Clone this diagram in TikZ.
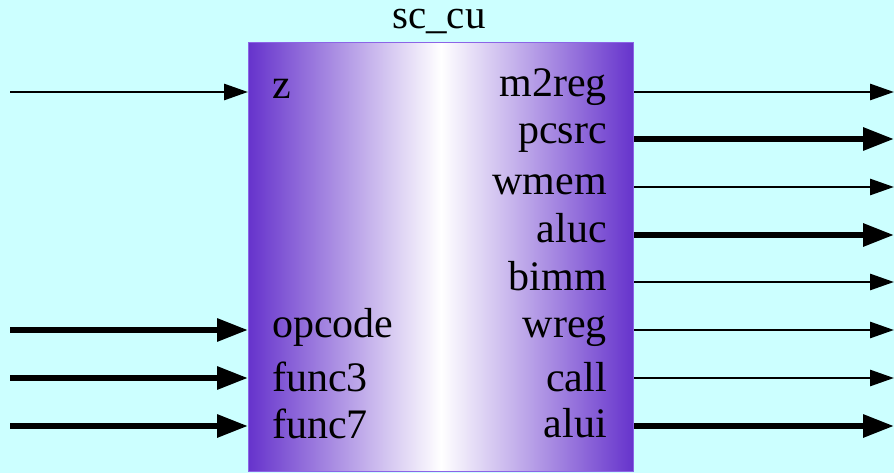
\documentclass[tikz,border=0pt]{standalone}
\usepackage{fontspec}
\setmainfont{Liberation Serif}
\newfontfamily\portfont{Liberation Serif}
\usetikzlibrary{arrows.meta}
\definecolor{bg}{RGB}{204,255,255}
\definecolor{cupurple}{RGB}{102,51,204}
\definecolor{cuedge}{RGB}{140,100,230}

\begin{document}
\begin{tikzpicture}[x=1pt,y=-1pt,
  lbl/.style={font=\portfont\fontsize{42}{50}\selectfont, inner sep=0pt},
  thinwire/.style={line width=2.8pt, -{Triangle[length=24pt,width=16pt]}},
  buswire/.style={line width=6pt, -{Triangle[length=31pt,width=22pt]}}]
  % canvas
  \fill[bg] (0,0) rectangle (894,473);
  \useasboundingbox (0,0) rectangle (894,473);

  % control unit block
  \node[draw=cuedge, line width=1pt, left color=cupurple, right color=cupurple,
        middle color=white, minimum width=385pt, minimum height=429pt,
        anchor=north west, inner sep=0pt] (cu) at (248,42) {};
  \node[lbl, font=\portfont\fontsize{41}{49}\selectfont, anchor=center]
        (title) at (439,21) {sc\_cu};

  % input ports
  \node[lbl, anchor=base west] (z)      at (272,99)  {z};
  \node[lbl, anchor=base west] (opcode) at (272,337) {opcode};
  \node[lbl, anchor=base west] (func3)  at (272,391) {func3};
  \node[lbl, anchor=base west] (func7)  at (272,438) {func7};

  % output ports
  \node[lbl, anchor=base east] (m2reg) at (607,97)  {m2reg};
  \node[lbl, anchor=base east] (pcsrc) at (607,144) {pcsrc};
  \node[lbl, anchor=base east] (wmem)  at (607,195) {wmem};
  \node[lbl, anchor=base east] (aluc)  at (607,243) {aluc};
  \node[lbl, anchor=base east] (bimm)  at (607,290) {bimm};
  \node[lbl, anchor=base east] (wreg)  at (607,337) {wreg};
  \node[lbl, anchor=base east] (call)  at (607,391) {call};
  \node[lbl, anchor=base east] (alui)  at (607,437) {alui};

  % free wire ends
  \coordinate (zin)      at (10,92);
  \coordinate (opcodein) at (10,330);
  \coordinate (func3in)  at (10,378);
  \coordinate (func7in)  at (10,426);
  \coordinate (m2regout) at (894,92);
  \coordinate (pcsrcout) at (894,139);
  \coordinate (wmemout)  at (894,187);
  \coordinate (alucout)  at (894,235);
  \coordinate (bimmout)  at (894,282);
  \coordinate (wregout)  at (894,330);
  \coordinate (callout)  at (894,378);
  \coordinate (aluiout)  at (894,426);

  % input wires
  \draw[thinwire] (zin)      -- (cu.west |- zin);
  \draw[buswire]  (opcodein) -- (cu.west |- opcodein);
  \draw[buswire]  (func3in)  -- (cu.west |- func3in);
  \draw[buswire]  (func7in)  -- (cu.west |- func7in);

  % output wires
  \draw[thinwire] (cu.east |- m2regout) -- (m2regout);
  \draw[buswire]  (cu.east |- pcsrcout) -- (pcsrcout);
  \draw[thinwire] (cu.east |- wmemout)  -- (wmemout);
  \draw[buswire]  (cu.east |- alucout)  -- (alucout);
  \draw[thinwire] (cu.east |- bimmout)  -- (bimmout);
  \draw[thinwire] (cu.east |- wregout)  -- (wregout);
  \draw[thinwire] (cu.east |- callout)  -- (callout);
  \draw[buswire]  (cu.east |- aluiout)  -- (aluiout);
\end{tikzpicture}
\end{document}
